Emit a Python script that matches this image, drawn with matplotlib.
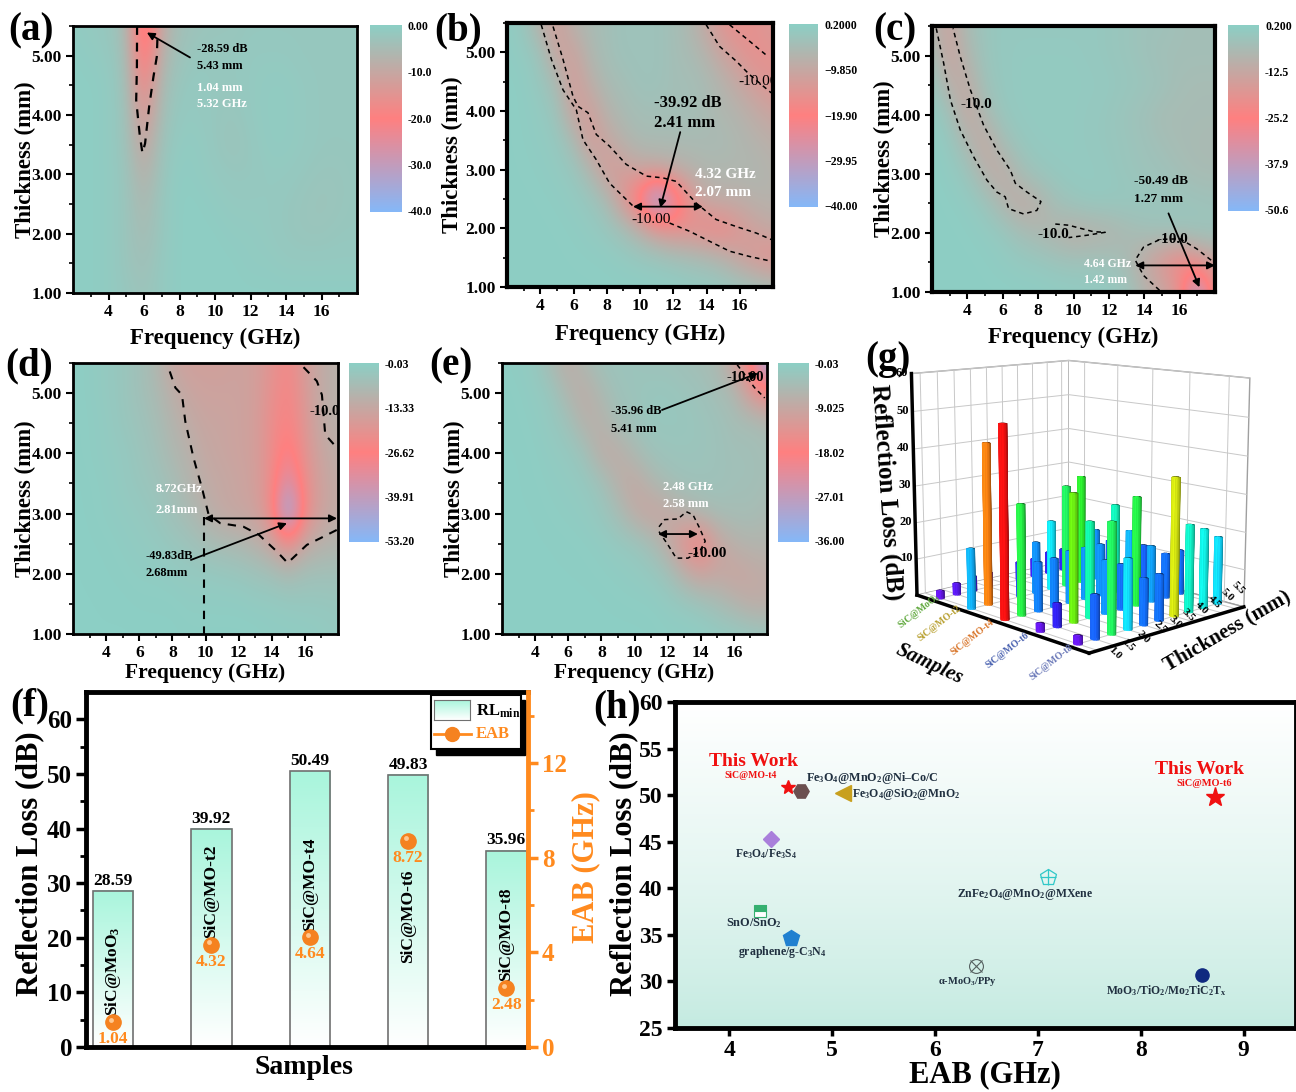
import numpy as np
import matplotlib
matplotlib.use('Agg')
import matplotlib.pyplot as plt
from matplotlib.colors import LinearSegmentedColormap
from matplotlib.patches import Rectangle
from matplotlib.lines import Line2D

W, H = 1296, 1092
plt.rcParams['font.family'] = ['Liberation Serif', 'DejaVu Serif']
plt.rcParams['font.weight'] = 'bold'
plt.rcParams['mathtext.fontset'] = 'custom'
plt.rcParams['mathtext.rm'] = 'Liberation Serif:bold'
plt.rcParams['mathtext.default'] = 'rm'

# heat maps: rows are thickness 5.5 ... 1.0, columns are 2 ... 18 GHz
heat_a = [
    [-1, -1.5, -2, -5, -28, -9, -4, -3, -2.5, -2.5, -2, -2, -2, -2, -2, -2, -2],
    [-.5, -1, -1.5, -4, -24, -7, -3, -2, -2, -2, -1.5, -1.5, -1.5, -2, -2, -2, -2],
    [-.5, -.5, -1, -3.5, -19, -5, -2, -1.5, -2, -2, -1.5, -1, -1, -1.5, -2, -2, -2],
    [-.5, -.5, -1, -3, -15, -4, -1.5, -1.5, -2, -2.5, -1.5, -1, -1, -1.5, -2, -2, -2],
    [-.5, -.5, -1, -3, -11, -3, -1, -1, -2, -3, -2, -1, -1, -1.5, -2, -2, -2],
    [-.5, -.5, -1, -2.5, -8, -2.5, -.5, -1, -1.5, -2, -2, -1.5, -1.5, -2, -2.5, -2.5, -2],
    [-.5, -.5, -1, -2.5, -6, -2, -.5, -.5, -1, -1.5, -1.5, -1.5, -2, -2.5, -3, -2.5, -2],
    [-.5, -.5, -1, -2.5, -5, -2, -.5, -.5, -.5, -1, -1, -1.5, -2, -2.5, -2.5, -2, -2],
    [-.5, -.5, -1, -2.5, -4, -1.5, -.5, -.5, -.5, -.5, -1, -1, -1.5, -1.5, -1.5, -1.5, -1.5],
    [-.5, -.5, -1, -2, -3, -1.5, -.5, -.5, -.5, -.5, -.5, -.5, -.5, -.5, -.5, -.5, -.5],
]
heat_b = [
    [-.5, -2, -8, -12, -7, -5, -4, -3, -3, -3, -4, -6, -10, -15, -16, -15, -13],
    [-.5, -1, -3, -11, -11, -6, -4, -3, -3, -3, -4, -5, -7, -11, -14, -16, -15],
    [-.3, -.5, -2, -5, -13, -8, -5, -4, -3, -3, -4, -4, -5, -7, -10, -13, -15],
    [-.2, -.5, -1, -3, -11, -12, -7, -5, -4, -4, -4, -4, -5, -6, -7, -9, -11],
    [-.2, -.4, -.8, -1.5, -5, -13, -10, -7, -5, -5, -5, -5, -5, -5, -6, -7, -8],
    [-.2, -.3, -.5, -1, -2, -6, -13, -12, -10, -9, -8, -7, -6, -6, -6, -6, -7],
    [-.2, -.2, -.3, -.5, -1, -2, -5, -14, -24, -40, -28, -15, -9, -8, -8, -7, -7],
    [-.2, -.2, -.2, -.3, -.5, -1, -2, -4, -8, -13, -16, -16, -18, -18, -14, -11, -9],
    [-.2, -.2, -.2, -.2, -.3, -.4, -.5, -1, -1.5, -2, -3, -4, -5, -7, -11, -14, -16],
    [-.2, -.2, -.2, -.2, -.2, -.2, -.3, -.3, -.3, -.5, -.5, -1, -1, -1.5, -2, -3, -4],
]
heat_c = [
    [-8, -14, -6, -3, -2, -2, -2, -2, -2, -2, -2.5, -3, -4, -4, -5, -5, -5],
    [-5, -14, -8, -3, -2, -1.5, -1.5, -1.5, -1.5, -2, -2.5, -3, -4, -5, -5, -5, -5],
    [-2, -10, -12, -4, -2, -1.5, -1.5, -1.5, -1.5, -1.5, -2, -2.5, -3, -4, -5.5, -6, -6],
    [-1, -4, -13, -7, -2.5, -1.5, -1.5, -1.5, -1.5, -2, -2.5, -3.5, -4.5, -6, -6, -6, -6],
    [-.5, -2, -7, -13, -6, -2.5, -1.5, -1.5, -1.5, -2, -2.5, -3, -4, -5, -6, -6.5, -7],
    [-.3, -1, -3, -9, -12, -6, -3, -2, -1.5, -1.5, -2, -3, -3.5, -4, -5, -6, -6],
    [-.2, -.5, -1, -3, -8, -12, -10, -5, -3, -2, -2, -2, -2.5, -3, -3, -3.5, -4],
    [-.2, -.3, -.5, -1, -2, -5, -7, -9, -11, -10, -9, -7, -5, -4, -3.5, -3, -3],
    [-.2, -.2, -.3, -.5, -1, -1.5, -2, -3, -3.5, -3.5, -4, -6, -12, -18, -24, -19, -14],
    [-.2, -.2, -.2, -.3, -.3, -.5, -.5, -.8, -1, -1.2, -1.5, -3, -8, -12, -18, -46, -18],
]
heat_d = [
    [-.5, -1, -2, -3, -5, -8, -14, -16, -16, -16, -15, -16, -20, -24, -17, -12, -10],
    [-.5, -1, -2, -3, -5, -7, -11, -14, -15, -15, -15, -16, -21, -25, -18, -12, -10],
    [-.5, -.8, -1.5, -3, -4, -6, -9, -12, -14, -14, -15, -16, -22, -26, -19, -12, -10],
    [-.5, -.8, -1.5, -2, -3.5, -5, -8, -10, -13, -14, -15, -16, -22, -30, -20, -14, -11],
    [-.3, -.6, -1, -2, -3, -4, -6, -9, -12, -13, -14, -16, -22, -38, -22, -15, -12],
    [-.3, -.5, -1, -1.5, -2, -3, -5, -7, -10, -13, -14, -15, -22, -53, -23, -15, -12],
    [-.2, -.4, -.5, -1, -1.5, -2, -3, -4, -6, -7, -8, -10, -14, -22, -13, -10, -9],
    [-.2, -.3, -.4, -.6, -1, -1, -1.5, -2, -2, -2.5, -3, -4, -5, -7, -5, -5, -5],
    [-.2, -.2, -.3, -.3, -.5, -.5, -.5, -1, -1, -1, -1, -1.5, -1.5, -2, -2.5, -2.5, -3],
    [-.2, -.2, -.2, -.2, -.2, -.3, -.3, -.5, -.5, -.5, -.5, -.5, -1, -1, -1, -1.5, -2],
]
heat_e = [
    [-.5, -.8, -1.5, -5, -8, -5, -3, -2.5, -2.5, -3, -3, -3.5, -4, -5, -10, -18, -34],
    [-.3, -.5, -1, -2, -6, -8, -5, -3, -2.5, -2, -2, -2.5, -3, -4, -5, -12, -16],
    [-.3, -.4, -.7, -1.5, -3, -7, -7, -4, -3, -2, -2, -2, -2.5, -3, -4, -4, -5],
    [-.3, -.3, -.5, -1, -1.5, -3, -8, -8, -5, -3, -2.5, -2.5, -2.5, -3, -3.5, -3.5, -4],
    [-.2, -.3, -.4, -.7, -1, -1.5, -3, -7, -9, -6, -4, -3, -3, -3, -3.5, -3.5, -4],
    [-.2, -.3, -.3, -.5, -.7, -1, -2, -4, -8, -10, -9, -7, -5, -4, -4, -4, -5],
    [-.2, -.2, -.3, -.3, -.4, -.5, -.8, -1.5, -2, -4, -8, -14, -18, -10, -7, -6, -6],
    [-.2, -.2, -.2, -.3, -.3, -.4, -.5, -.7, -1, -1.5, -3, -7, -10, -9, -10, -9, -8],
    [-.2, -.2, -.2, -.2, -.2, -.2, -.3, -.4, -.5, -.5, -1, -1.5, -2.5, -4, -6, -8, -8],
    [-.2, -.2, -.2, -.2, -.2, -.2, -.2, -.2, -.2, -.3, -.5, -.5, -.5, -1, -1, -1.5, -2],
]

# -10 dB contours, (frequency list, thickness list)
contour_a = [([5.61, 5.6, 5.56, 5.75, 5.91, 6.06, 6.29, 6.53, 6.72, 6.76],
              [5.5, 4.81, 4.25, 3.69, 3.36, 3.52, 4.14, 4.64, 4.98, 5.32])]
contour_b = [([4.06, 4.67, 5.37, 6.17, 6.57, 7.37, 8.17, 9.58],
              [5.47, 4.88, 4.36, 4.02, 3.51, 3.17, 2.77, 2.38]),
             ([11.78, 12.98, 14.18, 15.39, 16.59, 17.89],
              [2.09, 1.95, 1.78, 1.61, 1.52, 1.44]),
             ([4.77, 5.37, 5.97, 6.27, 6.87, 7.37, 8.17, 9.17, 10.38, 11.38, 12.18, 13.38, 14.58, 15.79, 16.99, 17.89],
              [5.44, 4.88, 4.25, 4.08, 3.97, 3.6, 3.4, 3.09, 2.89, 2.86, 2.8, 2.43, 2.15, 2.03, 1.92, 1.81]),
             ([13.98, 14.79, 15.79, 16.59, 17.89], [5.47, 5.1, 4.85, 4.62, 4.31]),
             ([15.39, 16.59, 17.69], [5.47, 5.19, 4.93])]
contour_c = [([2.24, 2.66, 3.04, 3.6, 4.35, 5.11, 5.67, 6.14, 6.33, 7.18, 7.93, 8.16, 7.37, 6.71, 6.43, 5.67, 4.92, 4.17, 3.6, 3.19],
              [5.46, 4.87, 4.25, 3.74, 3.29, 2.89, 2.69, 2.61, 2.41, 2.32, 2.38, 2.53, 2.69, 2.84, 3.06, 3.4, 3.82, 4.42, 4.98, 5.46]),
             ([8.97, 9.72, 11.13, 11.79, 10.76, 9.72], [2.15, 2.13, 2.02, 2.01, 1.96, 1.92]),
             ([14.86, 13.96, 13.49, 13.96, 14.9, 16.03, 16.97, 17.9],
              [1.03, 1.28, 1.54, 1.76, 1.89, 1.9, 1.73, 1.51])]
contour_d = [([7.84, 8.18, 8.58, 8.78, 9.28, 9.79, 10.19, 10.89, 12.3, 13.21, 14.31, 14.96, 16.12, 16.93, 17.94],
              [5.36, 5.09, 4.97, 4.53, 3.92, 3.42, 2.98, 2.84, 2.78, 2.65, 2.37, 2.18, 2.48, 2.59, 2.73]),
             ([15.92, 16.72, 17.03, 17.23, 17.94], [5.43, 5.2, 4.97, 4.31, 4.09]),
             ([9.91, 9.91], [2.94, 1.0])]
contour_e = [([11.48, 11.82, 12.62, 13.13, 13.53, 13.93, 14.27, 13.93, 13.23, 12.52, 12.02, 11.48],
              [2.78, 2.9, 2.91, 3.03, 2.98, 2.76, 2.54, 2.37, 2.26, 2.26, 2.48, 2.7]),
             ([16.2, 16.65, 17.25, 17.86], [5.47, 5.31, 5.09, 4.92])]

cbar_a = ['0.00', '-10.0', '-20.0', '-30.0', '-40.0']
cbar_b = ['0.2000', '\u22129.850', '\u221219.90', '\u221229.95', '\u221240.00']
cbar_c = ['0.200', '-12.5', '-25.2', '-37.9', '-50.6']
cbar_d = ['-0.03', '-13.33', '-26.62', '-39.91', '-53.20']
cbar_e = ['-0.03', '-9.025', '-18.02', '-27.01', '-36.00']

# panel f
samples_f = ['SiC@MoO$_3$', 'SiC@MO-t2', 'SiC@MO-t4', 'SiC@MO-t6', 'SiC@MO-t8']
rl_min = [28.59, 39.92, 50.49, 49.83, 35.96]
eab = [1.04, 4.32, 4.64, 8.72, 2.48]

# panel g: rows are samples, columns thickness 1.0 ... 5.5
samples_g = ['SiC@MoO$_3$', 'SiC@MO-t2', 'SiC@MO-t4', 'SiC@MO-t6', 'SiC@MO-t8']
sample_cols = ['#5FA83C', '#B8A030', '#D9762B', '#4A62B0', '#6A78B8']
thick_g = [1.0, 1.5, 2.0, 2.5, 3.0, 3.5, 4.0, 4.5, 5.0, 5.5]
rl_g = [
    [2, 3, 4, 4, 5, 5, 5, 6, 6, 7],
    [16, 43, 12, 9, 14, 19, 28, 30, 14, 10],
    [50, 29, 13, 13, 14, 14, 14, 24, 16, 11],
    [2, 6, 33, 25, 14, 12, 29, 15, 12, 12],
    [2, 11, 28, 18, 12, 12, 36, 23, 21, 18],
]

# panel h
h_eab = [4.57, 4.7, 5.1, 4.4, 4.3, 4.6, 6.4, 7.1, 8.6, 8.72]
h_rl = [50.9, 50.4, 50.2, 45.3, 37.6, 34.7, 31.7, 41.2, 30.7, 49.83]

cmap = LinearSegmentedColormap.from_list('rl', ['#85B8F8', '#FF8080', '#8CCFC5'])
cmap_bar = LinearSegmentedColormap.from_list('bar', ['#FFFFFF', '#A9F5DC'])
cmap_h = LinearSegmentedColormap.from_list('hbg', ['#C3EAE0', '#FFFFFF'])
cmap_3d = LinearSegmentedColormap.from_list('h3', ['#7A10E0', '#2A20E0', '#1070F0', '#10D8F0', '#10E8A0',
                                                   '#30E010', '#F0D010', '#F07010', '#F01010'])


def rect(l, t, r, b):
    return [l / W, 1 - b / H, (r - l) / W, (b - t) / H]


def ptxt(fig, x, y, s, **kw):
    kw.setdefault('ha', 'left')
    kw.setdefault('va', 'center')
    return fig.text(x / W, 1 - y / H, s, **kw)


def heat_panel(fig, box, cbox, data, vmin, vmax, lines, clabels, letter, lw=2, xlab_y=338,
               xlab_fs=16.5, thick_dx=48, dash=(3, 2.5), dash_lw=1.1):
    ax = fig.add_axes(rect(*box))
    ax.imshow(data, extent=(1.5, 18.5, 0.75, 5.75), cmap=cmap, vmin=vmin, vmax=vmax,
              aspect='auto', interpolation='bicubic')
    ax.set_xlim(2, 18)
    ax.set_ylim(1, 5.5)
    ax.set_xticks(range(4, 17, 2))
    ax.set_xticks(range(3, 18, 2), minor=True)
    ax.set_yticks([1, 2, 3, 4, 5])
    ax.set_yticklabels(['1.00', '2.00', '3.00', '4.00', '5.00'])
    ax.set_yticks([1.5, 2.5, 3.5, 4.5, 5.5], minor=True)
    ax.tick_params(which='major', length=5, width=1.5, labelsize=12.5, pad=3)
    ax.tick_params(which='minor', length=3, width=1.2)
    for s in ax.spines.values():
        s.set_linewidth(lw)
    for fx, ty in lines:
        ax.plot(fx, ty, color='k', ls=(0, dash), lw=dash_lw)
    cax = fig.add_axes(rect(*cbox))
    cax.imshow(np.linspace(1, 0, 256)[:, None], cmap=cmap, aspect='auto')
    cax.axis('off')
    pos = np.linspace(cbox[1] + 2, cbox[3], 5)
    for p, s in zip(pos, clabels):
        ptxt(fig, cbox[2] + 6, p, s, fontsize=8.5)
    ptxt(fig, box[0] - thick_dx, (box[1] + box[3]) / 2, 'Thickness (mm)', fontsize=16.5, rotation=90, ha='center')
    ptxt(fig, (box[0] + box[2]) / 2, xlab_y, 'Frequency (GHz)', fontsize=xlab_fs, ha='center')
    ptxt(fig, letter[1], letter[2], letter[0], fontsize=28, ha='left')
    return ax


def arrow(ax, a, b, style='-|>', lw=1.3):
    ax.annotate('', xy=b, xytext=a, arrowprops=dict(arrowstyle=style, color='k', lw=lw,
                                                    shrinkA=0, shrinkB=0, mutation_scale=11))


def panel_abc(fig):
    a = heat_panel(fig, (73, 26, 357, 293), (370, 25, 402, 212), heat_a, -40, 0, contour_a, cbar_a, ('(a)', 8, 31),
                   dash=(4, 3.5), dash_lw=1.6)
    a.text(8.97, 5.12, '-28.59 dB', fontsize=9, va='center')
    a.text(8.97, 4.82, '5.43 mm', fontsize=9, va='center')
    a.text(8.97, 4.46, '1.04 mm', fontsize=9, va='center', color='w')
    a.text(8.97, 4.18, '5.32 GHz', fontsize=9, va='center', color='w')
    arrow(a, (8.59, 4.97), (6.16, 5.39))

    b = heat_panel(fig, (507, 23, 773, 287), (789, 24, 818, 207), heat_b, -40, 0.2, contour_b, cbar_b,
                   ('(b)', 434, 31), lw=3, xlab_y=334, thick_dx=55)
    b.text(10.82, 4.14, '-39.92 dB', fontsize=12, va='center')
    b.text(10.82, 3.8, '2.41 mm', fontsize=12, va='center')
    b.text(13.32, 2.91, '4.32 GHz', fontsize=11, va='center', color='w')
    b.text(13.32, 2.61, '2.07 mm', fontsize=11, va='center', color='w')
    b.text(9.47, 2.15, '-10.00', fontsize=11, va='center', weight='normal')
    b.text(15.89, 4.5, '-10.00', fontsize=11, va='center', weight='normal', clip_on=True)
    arrow(b, (12.42, 3.64), (11.22, 2.35))
    arrow(b, (9.58, 2.37), (13.78, 2.37), '<|-|>')

    c = heat_panel(fig, (932, 26, 1215, 292), (1228, 25, 1259, 211), heat_c, -50.6, 0.2, contour_c, cbar_c,
                   ('(c)', 873, 31), lw=3, xlab_y=337)
    c.text(13.43, 2.88, '-50.49 dB', fontsize=9.5, va='center')
    c.text(13.43, 2.58, '1.27 mm', fontsize=9.5, va='center')
    c.text(10.57, 1.48, '4.64 GHz', fontsize=8.5, va='center', color='w')
    c.text(10.57, 1.21, '1.42 mm', fontsize=8.5, va='center', color='w')
    c.text(3.6, 4.18, '-10.0', fontsize=11, va='center')
    c.text(7.97, 1.97, '-10.0', fontsize=11, va='center')
    c.text(14.71, 1.89, '-10.0', fontsize=11, va='center')
    arrow(c, (15.37, 2.33), (17.12, 1.08))
    arrow(c, (13.49, 1.45), (18.0, 1.45), '<|-|>')


def panel_de(fig):
    d = heat_panel(fig, (73, 363, 338, 634), (349, 363, 379, 542), heat_d, -53.2, -0.03, contour_d, cbar_d,
                   ('(d)', 5, 366), xlab_y=673, xlab_fs=15.5, dash=(4, 3.5), dash_lw=1.5)
    d.text(6.97, 3.4, '8.72GHz', fontsize=9, va='center', color='w')
    d.text(6.97, 3.06, '2.81mm', fontsize=9, va='center', color='w')
    d.text(6.37, 2.3, '-49.83dB', fontsize=9, va='center')
    d.text(6.37, 2.01, '2.68mm', fontsize=9, va='center')
    d.text(16.29, 4.7, '-10.0', fontsize=10.5, va='center', clip_on=True)
    arrow(d, (9.12, 2.23), (14.92, 2.84))
    arrow(d, (9.91, 2.92), (17.94, 2.92), '<|-|>')

    e = heat_panel(fig, (502, 363, 767, 634), (778, 363, 809, 542), heat_e, -36, -0.03, contour_e, cbar_e,
                   ('(e)', 429, 366), xlab_y=673, xlab_fs=15.5)
    e.text(8.56, 4.7, '-35.96 dB', fontsize=9, va='center')
    e.text(8.56, 4.41, '5.41 mm', fontsize=9, va='center')
    e.text(11.72, 3.44, '2.48 GHz', fontsize=9, va='center', color='w')
    e.text(11.72, 3.16, '2.58 mm', fontsize=9, va='center', color='w')
    e.text(15.54, 5.26, '-10.00', fontsize=10.5, va='center')
    e.text(13.23, 2.34, '-10.00', fontsize=11, va='center')
    arrow(e, (11.66, 4.72), (17.45, 5.33))
    arrow(e, (11.42, 2.66), (13.83, 2.66), '<|-|>')


def panel_f(fig):
    ax = fig.add_axes(rect(86, 692, 528, 1047))
    x = np.arange(len(rl_min))
    width = 0.41
    for xi, v in zip(x, rl_min):
        ax.imshow(np.linspace(1, 0, 128)[:, None], cmap=cmap_bar, vmin=0, vmax=1, aspect='auto',
                  extent=(xi - width / 2, xi + width / 2, 0, v), zorder=1)
    ax.bar(x, rl_min, width, facecolor='none', edgecolor='#707070', lw=1.2, zorder=2)
    ax.set_xlim(-0.275, 4.22)
    ax.set_ylim(0, 65)
    ax.set_xticks([])
    ax.set_yticks(range(0, 61, 10))
    ax.set_yticks(range(5, 61, 10), minor=True)
    ax.tick_params(which='major', length=7, width=2.5, labelsize=18, pad=3)
    ax.tick_params(which='minor', length=4, width=2)
    for xi, v in zip(x, rl_min):
        ax.text(xi, v + 0.4, '%.2f' % v, ha='center', va='bottom', fontsize=12.5)
    label_y = [971, 891, 884, 916, 934]
    for xi, s, py in zip(x, samples_f, label_y):
        ax.text(xi, (1047 - py) / 355 * 65, s, rotation=90, ha='center', va='center', fontsize=12.5)
    for s in ax.spines.values():
        s.set_linewidth(3.5)
    ax.spines['right'].set_visible(False)

    ax2 = ax.twinx()
    ax2.set_ylim(0, 15)
    orange = '#FF8A1E'
    ax2.plot(x, eab, 'o', ms=11, mfc='#F58220', mec='#F58220', zorder=5)
    ax2.plot(x - 0.02, np.array(eab) + 0.1, 'o', ms=3.5, mfc='#FFC890', mec='none', zorder=6)
    for xi, v in zip(x, eab):
        ax2.text(xi, v - 0.72, '%.2f' % v, color=orange, ha='center', va='center', fontsize=12.5)
    ax2.set_yticks([0, 4, 8, 12])
    ax2.set_yticks([2, 6, 10, 14], minor=True)
    ax2.tick_params(which='major', length=7, width=2.5, labelsize=18, colors=orange, pad=3)
    ax2.tick_params(which='minor', length=4, width=2, colors=orange)
    for name, s in ax2.spines.items():
        s.set_visible(name == 'right')
    ax2.spines['right'].set_color(orange)
    ax2.spines['right'].set_linewidth(3.5)

    ptxt(fig, 30, 864, 'Reflection Loss (dB)', fontsize=22, rotation=90, ha='center')
    ptxt(fig, 586, 867, 'EAB (GHz)', fontsize=22, rotation=90, ha='center', color=orange)
    ptxt(fig, 304, 1067, 'Samples', fontsize=20, ha='center')
    ptxt(fig, 10, 706, '(f)', fontsize=28)

    # legend box with shadow
    fig.add_artist(Rectangle((436 / W, 1 - 755 / H), 89 / W, 55 / H, transform=fig.transFigure, fc='k', ec='k', zorder=8))
    fig.add_artist(Rectangle((431 / W, 1 - 749 / H), 90 / W, 54 / H, transform=fig.transFigure, fc='w', ec='k', lw=1.5, zorder=9))
    lax = fig.add_axes(rect(434, 700, 470, 720), zorder=10)
    lax.imshow(np.linspace(1, 0, 64)[:, None], cmap=cmap_bar, vmin=0, vmax=1, aspect='auto')
    lax.set_xticks([])
    lax.set_yticks([])
    for s in lax.spines.values():
        s.set_color('#707070')
    fig.add_artist(Line2D([434 / W, 471 / W], [1 - 734 / H] * 2, transform=fig.transFigure, color=orange, lw=2, zorder=10))
    fig.add_artist(Line2D([452 / W], [1 - 734 / H], transform=fig.transFigure, marker='o', ms=10,
                          mfc='#F58220', mec='#F58220', zorder=11))
    ptxt(fig, 476, 711, 'RL$_{min}$', fontsize=12, zorder=11)
    ptxt(fig, 476, 734, 'EAB', fontsize=12, color=orange, zorder=11)


def panel_g(fig):
    az = -43
    ax = fig.add_axes(rect(852, 284, 1292, 708), projection='3d', computed_zorder=False)
    ax.patch.set_alpha(0)
    ax.set_proj_type('persp', focal_length=0.55)
    ax.view_init(elev=11, azim=az)
    ax.set_xlim(-0.5, 4.5)
    ax.set_ylim(0.75, 5.75)
    ax.set_zlim(0, 60)
    ax.set_box_aspect((1.15, 0.95, 1.02), zoom=0.93)
    ax.set_xticks(range(5))
    ax.set_yticks(thick_g)
    ax.set_zticks(range(10, 61, 10))
    ax.set_xticklabels([])
    ax.set_yticklabels([])
    ax.set_zticklabels([])
    for a in (ax.xaxis, ax.yaxis, ax.zaxis):
        a.set_pane_color((1, 1, 1, 1))
        a.pane.set_edgecolor('#A0A0A0')
        a._axinfo['grid']['color'] = '#C8C8C8'
        a._axinfo['grid']['linewidth'] = 0.7
        a._axinfo['tick']['inward_factor'] = 0
        a._axinfo['tick']['outward_factor'] = 0
        a.line.set_color((1, 1, 1, 0))
    t = np.linspace(0, 2 * np.pi, 13)
    xr, yr = 0.085, 0.09
    # brightness round the cylinder, light a bit left of the viewer
    side = 0.8 + 0.36 * np.cos(t + np.radians(95))
    for i in range(5):
        for j, th in enumerate(thick_g):
            v = rl_g[i][j]
            rows = np.array([1, 1, 0.5, 0.0])[:, None]
            X = i + rows * xr * np.cos(t)[None, :]
            Y = th + rows * yr * np.sin(t)[None, :]
            Z = np.array([0, v, v, v])[:, None] * np.ones((1, 13))
            rgb = np.array(cmap_3d(min(v / 50.0, 1)))[:3]
            fc = np.ones((4, 13, 4))
            fc[:2, :, :3] = np.clip(rgb[None, None, :] * side[None, :, None], 0, 1)
            fc[2:, :, :3] = np.clip(rgb * 1.05 + 0.05, 0, 1)
            # far bars first, so near ones cover them
            depth = (i * 1.15 * np.cos(np.radians(az)) + (th - 1) * 0.95 * np.sin(np.radians(az)))
            ax.plot_surface(X, Y, Z, facecolors=fc, shade=False, linewidth=0.3, antialiased=True,
                            rstride=1, cstride=1, zorder=20 + depth)
    ax.plot([-0.5, 4.5], [0.75, 0.75], [0, 0], color='k', lw=2.5, zorder=3)
    ax.plot([4.5, 4.5], [0.75, 5.75], [0, 0], color='k', lw=2.5, zorder=3)
    ax.plot([-0.5, -0.5], [0.75, 0.75], [0, 60], color='k', lw=2.5, zorder=3)
    for z in range(10, 61, 10):
        ax.text(-0.62, 0.75, z, str(z), fontsize=9, ha='right', va='center', zorder=50)
    sample_pos = [(919, 611), (939, 623), (972, 637), (1007, 650), (1051, 662)]
    for (px, py), s, c in zip(sample_pos, samples_g, sample_cols):
        ptxt(fig, px, py, s, fontsize=7, color=c, rotation=38, ha='center')
    thick_pos = [(1115, 653), (1128, 645), (1143, 637), (1160, 627), (1175, 622),
                 (1188, 615), (1202, 608), (1215, 602), (1227, 595), (1238, 588)]
    for (px, py), th in zip(thick_pos, thick_g):
        ptxt(fig, px, py, '%.1f' % th, fontsize=8, rotation=-45, ha='center')
    ptxt(fig, 886, 492, 'Reflection Loss (dB)', fontsize=18, rotation=-86, ha='center')
    ptxt(fig, 929, 664, 'Samples', fontsize=15, rotation=-25, ha='center', style='italic')
    ptxt(fig, 1227, 631, 'Thickness (mm)', fontsize=15, rotation=30, ha='center')
    ptxt(fig, 865, 360, '(g)', fontsize=28, zorder=40)


def panel_h(fig):
    ax = fig.add_axes(rect(675, 702, 1296, 1028))
    ax.imshow(np.linspace(1, 0, 256)[:, None] ** 0.8, cmap=cmap_h, vmin=0, vmax=1, aspect='auto',
              extent=(0, 1, 0, 1), transform=ax.transAxes, zorder=0)
    ax.set_xlim(3.47, 9.51)
    ax.set_ylim(25, 60)
    ax.set_xticks(range(4, 10))
    ax.set_yticks(range(25, 61, 5))
    ax.tick_params(length=6, width=2.5, labelsize=17, pad=3)
    for s in ax.spines.values():
        s.set_linewidth(3.5)
    styles = [dict(marker='*', ms=10, color='#F01010'),
              dict(marker='H', ms=11, color='#6B4F4F'),
              dict(marker='<', ms=11, color='#C8A01E'),
              dict(marker='D', ms=8, color='#A97FDB'),
              dict(marker='s', ms=9, color='#35B070', fillstyle='top', markerfacecoloralt='w', mew=0.8),
              dict(marker='p', ms=12, color='#2080D0'),
              dict(marker='o', ms=10, color='#556060', mfc='none', mew=0.8),
              dict(marker='p', ms=12, color='#30C8C8', mfc='none', mew=0.9),
              dict(marker='o', ms=9.5, color='#102A80'),
              dict(marker='*', ms=14, color='#F01010')]
    for xi, yi, st in zip(h_eab, h_rl, styles):
        ax.plot([xi], [yi], ls='none', zorder=3, **st)
    ax.plot(h_eab[6], h_rl[6], marker='x', ms=8, mew=0.8, color='#556060', zorder=4)
    ax.plot(h_eab[7], h_rl[7], marker='+', ms=11, mew=0.9, color='#30C8C8', zorder=4)

    c = '#203040'
    red = '#F01010'
    ptxt(fig, 709, 761, 'This Work', fontsize=14, color=red, zorder=5)
    ptxt(fig, 724, 776, 'SiC@MO-t4', fontsize=7, color=red, zorder=5)
    ptxt(fig, 806, 778, 'Fe$_3$O$_4$@MnO$_2$@Ni\u2013Co/C', fontsize=8.7, color=c, zorder=5)
    ptxt(fig, 852, 794, 'Fe$_3$O$_4$@SiO$_2$@MnO$_2$', fontsize=8.5, color=c, zorder=5)
    ptxt(fig, 735, 854, 'Fe$_3$O$_4$/Fe$_3$S$_4$', fontsize=8.3, color=c, zorder=5)
    ptxt(fig, 726, 923, 'SnO/SnO$_2$', fontsize=8.8, color=c, zorder=5)
    ptxt(fig, 738, 952, 'graphene/g-C$_3$N$_4$', fontsize=8.6, color=c, zorder=5)
    ptxt(fig, 957, 894, 'ZnFe$_2$O$_4$@MnO$_2$@MXene', fontsize=8.5, color=c, zorder=5)
    ptxt(fig, 938, 982, 'α-MoO$_3$/PPy', fontsize=7.5, color=c, zorder=5)
    ptxt(fig, 1106, 991, 'MoO$_3$/TiO$_2$/Mo$_2$TiC$_2$T$_x$', fontsize=8.4, color=c, zorder=5)
    ptxt(fig, 1155, 770, 'This Work', fontsize=14, color=red, zorder=5)
    ptxt(fig, 1176, 783, 'SiC@MO-t6', fontsize=7.5, color=red, zorder=5)

    ptxt(fig, 624, 864, 'Reflection Loss (dB)', fontsize=22, rotation=90, ha='center')
    ptxt(fig, 985, 1075, 'EAB (GHz)', fontsize=22, ha='center')
    ptxt(fig, 593, 708, '(h)', fontsize=28)


def main():
    fig = plt.figure(figsize=(W / 100, H / 100), dpi=100)
    panel_g(fig)
    panel_abc(fig)
    panel_de(fig)
    panel_f(fig)
    panel_h(fig)
    fig.savefig('out.png', dpi=100)


if __name__ == '__main__':
    main()
